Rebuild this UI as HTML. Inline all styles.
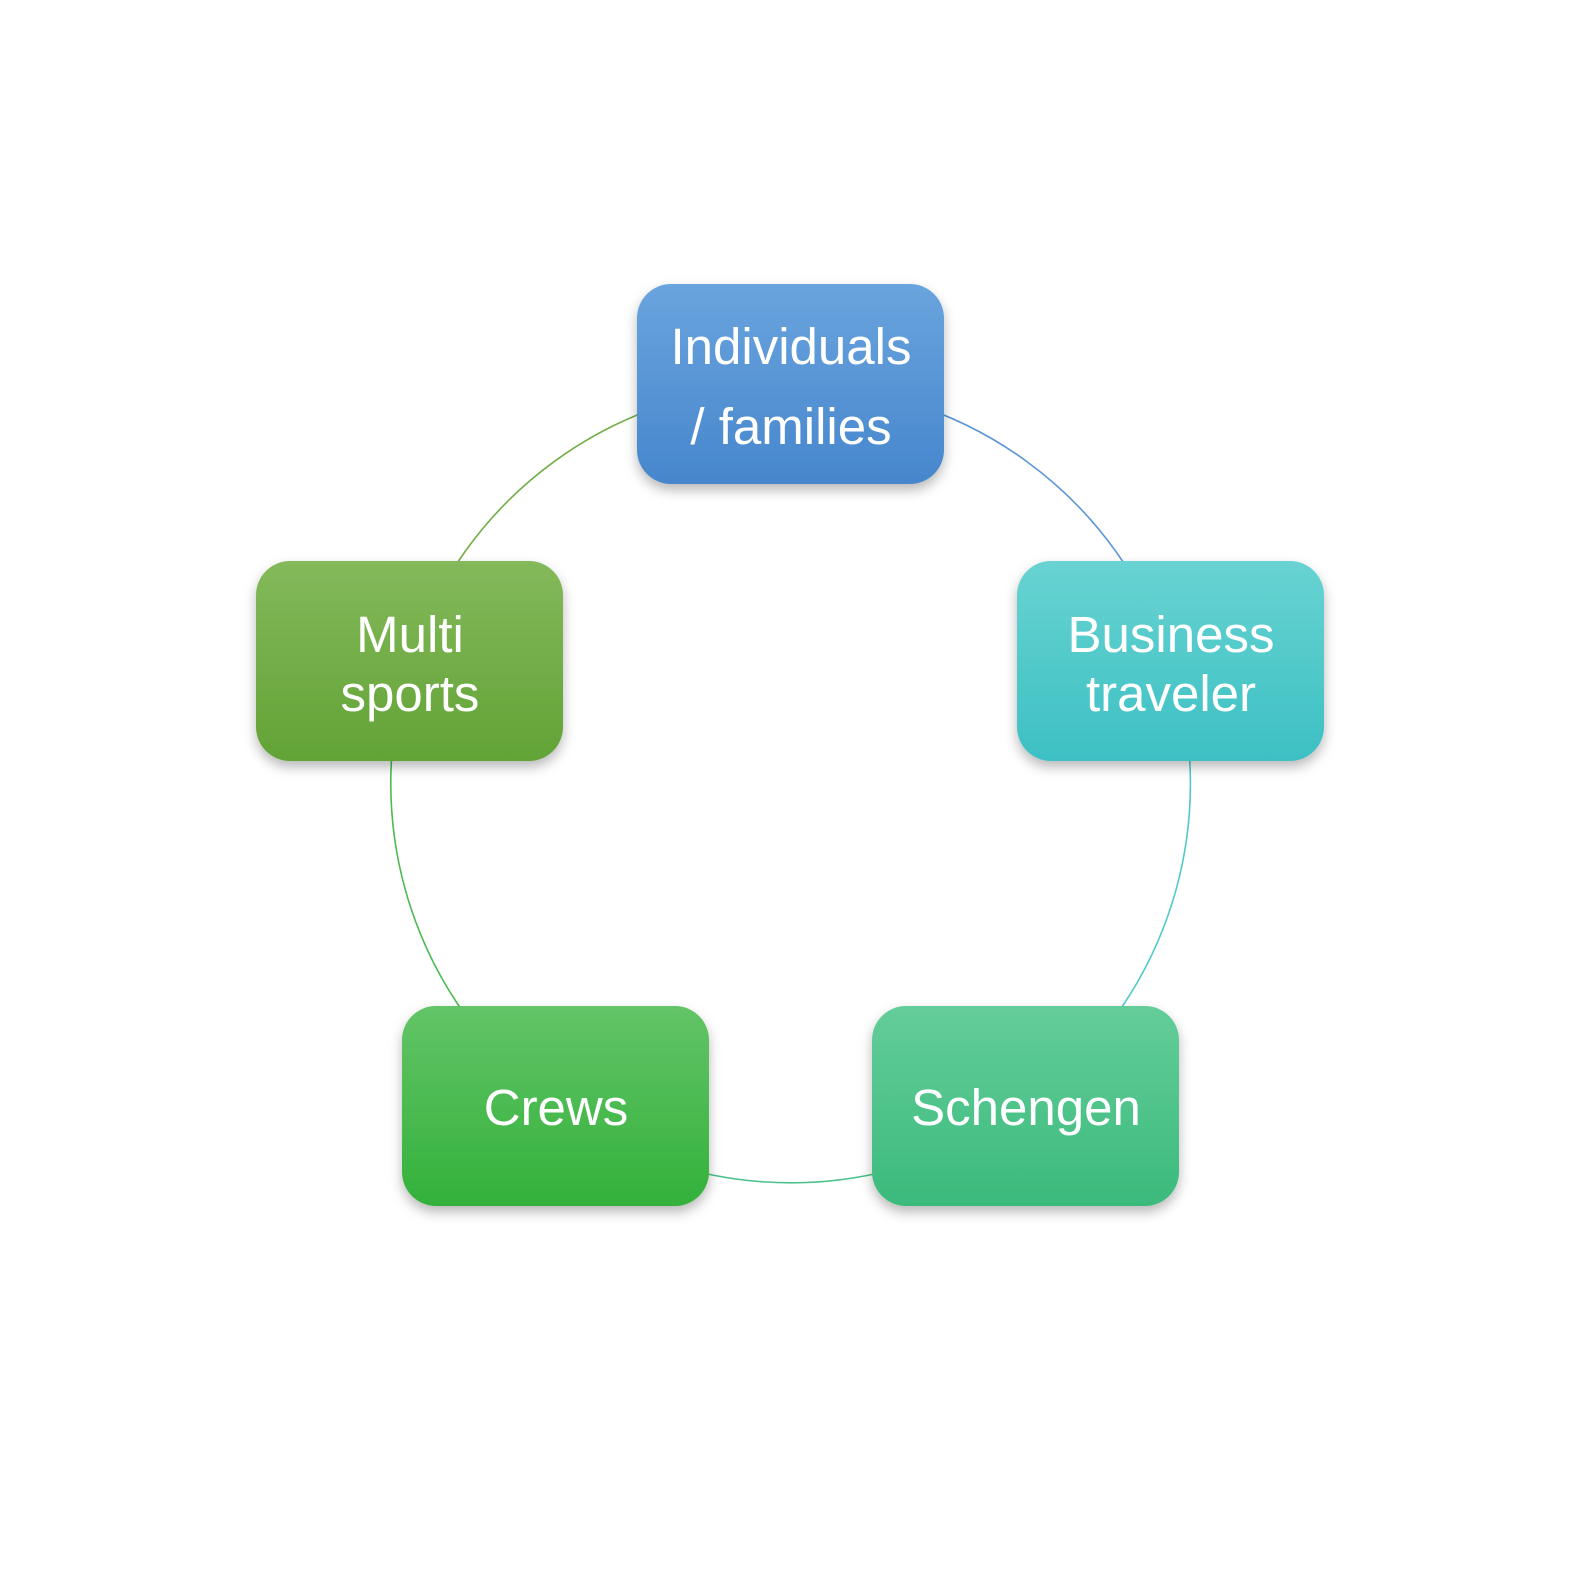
<!DOCTYPE html>
<html><head><meta charset="utf-8"><style>
html,body{margin:0;padding:0;background:#fff;}
svg{display:block;}
text{font-family:"Liberation Sans",Arial,sans-serif;font-size:51px;fill:#fff;text-anchor:middle;}
</style></head><body>
<svg width="1591" height="1591" viewBox="0 0 1591 1591" xmlns="http://www.w3.org/2000/svg">
<defs>
<linearGradient id="gb" x1="0" y1="0" x2="0" y2="1"><stop offset="0" stop-color="#6aa4de"/><stop offset="1" stop-color="#4686cc"/></linearGradient>
<linearGradient id="gc" x1="0" y1="0" x2="0" y2="1"><stop offset="0" stop-color="#68d3d2"/><stop offset="1" stop-color="#3dc0c3"/></linearGradient>
<linearGradient id="gs" x1="0" y1="0" x2="0" y2="1"><stop offset="0" stop-color="#64cd9a"/><stop offset="1" stop-color="#3bba7c"/></linearGradient>
<linearGradient id="gr" x1="0" y1="0" x2="0" y2="1"><stop offset="0" stop-color="#63c467"/><stop offset="1" stop-color="#33b13b"/></linearGradient>
<linearGradient id="gm" x1="0" y1="0" x2="0" y2="1"><stop offset="0" stop-color="#84b95b"/><stop offset="1" stop-color="#62a336"/></linearGradient>
<filter id="sh" x="-20%" y="-20%" width="140%" height="150%"><feDropShadow dx="0" dy="6" stdDeviation="6" flood-color="#000" flood-opacity="0.28"/></filter>
</defs>
<g fill="none" stroke-width="1.6">
<path d="M791,385 A398,398 0 0 1 1171,661" stroke="#5b95d6"/>
<path d="M1171,661 A398,398 0 0 1 1026,1106" stroke="#52c8ca"/>
<path d="M1026,1106 A398,398 0 0 1 556,1106" stroke="#4cc28a"/>
<path d="M556,1106 A398,398 0 0 1 410,661" stroke="#4dba52"/>
<path d="M410,661 A398,398 0 0 1 791,385" stroke="#72ae48"/>
</g>
<g filter="url(#sh)">
<rect x="637" y="284" width="307" height="200" rx="34" fill="url(#gb)"/>
<rect x="1017" y="561" width="307" height="200" rx="34" fill="url(#gc)"/>
<rect x="872" y="1006" width="307" height="200" rx="34" fill="url(#gs)"/>
<rect x="402" y="1006" width="307" height="200" rx="34" fill="url(#gr)"/>
<rect x="256" y="561" width="307" height="200" rx="34" fill="url(#gm)"/>
</g>
<text x="791" y="364">Individuals</text>
<text x="791" y="444">/ families</text>
<text x="1171" y="652">Business</text>
<text x="1171" y="711">traveler</text>
<text x="1026" y="1125">Schengen</text>
<text x="556" y="1125">Crews</text>
<text x="410" y="652">Multi</text>
<text x="410" y="711">sports</text>
</svg>
</body></html>
